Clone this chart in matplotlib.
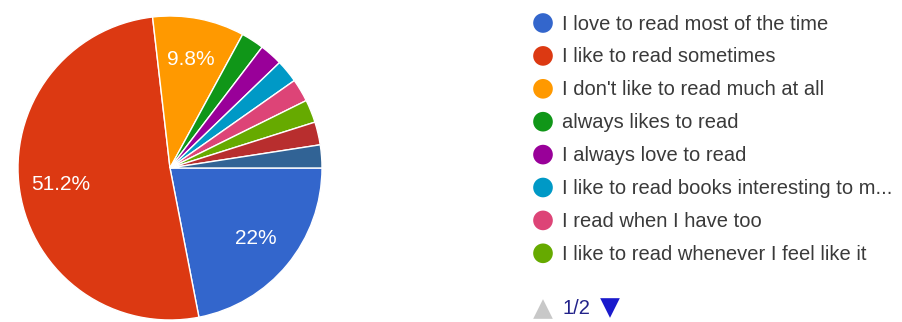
import matplotlib
matplotlib.use("Agg")
import matplotlib.pyplot as plt

# Survey responses (41 total), in chart order
counts = [9, 21, 4, 1, 1, 1, 1, 1, 1, 1]
colors = ["#3366cc", "#dc3912", "#ff9900", "#109618", "#990099",
          "#0099c6", "#dd4477", "#66aa00", "#b82e2e", "#316395"]
legend_labels = [
    "I love to read most of the time",
    "I like to read sometimes",
    "I don't like to read much at all",
    "always likes to read",
    "I always love to read",
    "I like to read books interesting to m...",
    "I read when I have too",
    "I like to read whenever I feel like it",
]
page_text = "1/2"

plt.rcParams["font.family"] = ["Liberation Sans", "DejaVu Sans"]

W, H = 902, 322
fig = plt.figure(figsize=(W / 100, H / 100), dpi=100)

# pie: centre (170, 168) px, radius 152 px
cx, cy, r = 170, 168, 152
ax = fig.add_axes([(cx - r) / W, (H - cy - r) / H, 2 * r / W, 2 * r / H])


def fmt(pct):
    if pct < 5:
        return ""
    s = f"{pct:.1f}"
    if s.endswith(".0"):
        s = s[:-2]
    return s + "%"


wedges, _, autotexts = ax.pie(
    counts, colors=colors, startangle=0, counterclock=False,
    autopct=fmt, pctdistance=0.73, radius=1.0,
    wedgeprops={"edgecolor": "white", "linewidth": 1.0},
    textprops={"color": "white", "fontsize": 15},
)
ax.set_xlim(-1, 1)
ax.set_ylim(-1, 1)
ax.set_aspect("equal")

# legend, drawn in pixel coordinates
lg = fig.add_axes([0, 0, 1, 1])
lg.set_xlim(0, W)
lg.set_ylim(H, 0)
lg.axis("off")
for i, lab in enumerate(legend_labels):
    y = 23 + i * 32.9
    lg.scatter([543], [y], s=200, color=colors[i], edgecolors="none")
    lg.text(562, y + 1, lab, fontsize=14.5, color="#3a3a3a", va="center", ha="left")

lg.scatter([543], [309], marker="^", s=200, color="#c8c8c8", edgecolors="none")
lg.text(563, 309, page_text, fontsize=14.5, color="#22228a", va="center", ha="left")
lg.scatter([610], [308], marker="v", s=200, color="#1a1acc", edgecolors="none")

fig.savefig("out.png", dpi=100)
